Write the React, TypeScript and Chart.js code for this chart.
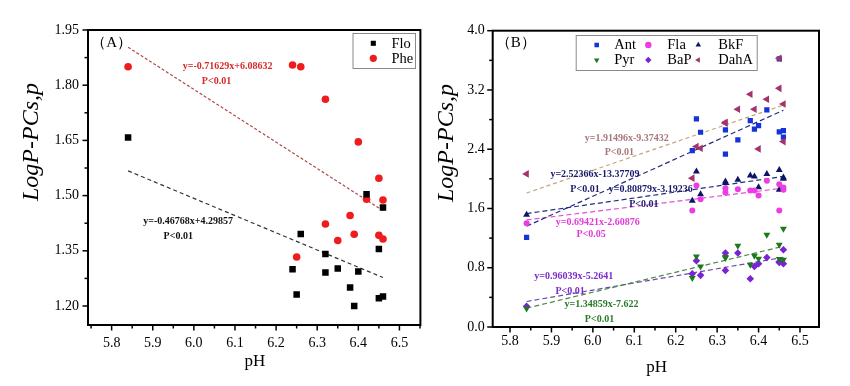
import React, { useEffect, useRef } from 'react';
import { Chart, registerables } from 'chart.js';
import { drawPoint } from 'chart.js/helpers';

Chart.register(...registerables);

const FONT = "'Liberation Serif', 'Times New Roman', serif";

// ---------- shared ----------
const pHSamples = [5.84, 6.24, 6.25, 6.26, 6.32, 6.32, 6.35, 6.38, 6.39, 6.40, 6.42, 6.45, 6.45, 6.46, 6.46];
const fitRange = [5.84, 6.46];
const xTickLabels = ['5.8', '5.9', '6.0', '6.1', '6.2', '6.3', '6.4', '6.5'];
const xTitle = 'pH';
const yTitle = 'LogP-PCs,p';

// ---------- panel A ----------
const seriesNamesA = ['Flo', 'Phe'];
const floValues = [1.658, 1.300, 1.231, 1.396, 1.341, 1.291, 1.302, 1.250, 1.200, 1.294, 1.504, 1.355, 1.221, 1.468, 1.226];
const pheValues = [1.850, 1.855, 1.333, 1.850, 1.762, 1.423, 1.378, 1.446, 1.395, 1.646, 1.490, 1.547, 1.392, 1.488, 1.382];
const slopesA = [-0.46768, -0.71629];
const interceptsA = [4.29857, 6.08632];
const equationsA = ['y=-0.46768x+4.29857', 'y=-0.71629x+6.08632'];
const pTextsA = ['P<0.01', 'P<0.01'];
const yTickLabelsA = ['1.20', '1.35', '1.50', '1.65', '1.80', '1.95'];

// ---------- panel B ----------
const seriesNamesB = ['Ant', 'Fla', 'BkF', 'Pyr', 'BaP', 'DahA'];
const antValues = [1.209, 2.382, 2.809, 2.629, 2.661, 2.333, 2.526, 2.787, 2.670, 2.719, 2.930, 2.634, 3.620, 2.652, 2.562];
const flaValues = [1.402, 1.573, 1.910, 1.726, 1.874, 1.816, 1.861, 1.843, 1.843, 1.775, 1.973, 1.928, 1.573, 1.883, 1.852];
const bkfValues = [1.515, 1.703, 2.099, 1.793, 1.964, 1.945, 1.987, 2.045, 2.031, 1.888, 2.067, 2.121, 1.852, 2.018, 2.000];
const pyrValues = [0.250, 0.660, 0.953, 0.818, 0.944, 0.930, 1.097, 0.840, 0.962, 0.920, 1.245, 1.110, 0.917, 1.326, 0.908];
const bapValues = [0.280, 0.719, 0.894, 0.697, 0.998, 0.764, 0.998, 0.652, 0.818, 0.854, 0.939, 0.872, 0.880, 1.043, 0.854];
const dahaValues = [2.067, 2.009, 2.436, 2.413, 2.764, 2.750, 2.939, 3.142, 2.939, 2.404, 3.074, 3.222, 3.627, 3.011, 2.503];
const slopesB = [2.52366, 0.69421, 0.80879, 1.34859, 0.96039, 1.91496];
const interceptsB = [-13.37709, -2.60876, -3.19236, -7.622, -5.2641, -9.37432];
const equationsB = ['y=2.52366x-13.37709', 'y=0.69421x-2.60876', 'y=0.80879x-3.19236', 'y=1.34859x-7.622', 'y=0.96039x-5.2641', 'y=1.91496x-9.37432'];
const pTextsB = ['P<0.01', 'P<0.05', 'P<0.01', 'P<0.01', 'P<0.01', 'P<0.01'];
const yTickLabelsB = ['0.0', '0.8', '1.6', '2.4', '3.2', '4.0'];

// ---------- styles (not data) ----------
const stylesA = [
  { color: '#000000', pointStyle: 'rect', rotation: 0, radius: 4.6, line: '#333333', dash: [4, 3], text: '#111111', order: 0 },
  { color: '#ee1c1c', pointStyle: 'circle', rotation: 0, radius: 3.8, line: '#b04a4a', dash: [3, 2], text: '#d42a2a', order: 0 },
];
const stylesB = [
  { color: '#1433d8', pointStyle: 'rect', rotation: 0, radius: 3.7, line: '#262c82', dash: [5, 3], text: '#1a1a6e', order: 0 },
  { color: '#ec3ce4', pointStyle: 'circle', rotation: 0, radius: 3.0, line: '#e050d8', dash: [5, 3], text: '#e03ad8', order: 0 },
  { color: '#0c1466', pointStyle: 'triangle', rotation: 0, radius: 4.0, line: '#262c82', dash: [5, 3], text: '#1a1a6e', order: 0 },
  { color: '#1c7a1c', pointStyle: 'triangle', rotation: 180, radius: 4.0, line: '#4a8a4a', dash: [5, 3], text: '#2a7a2a', order: 0 },
  { color: '#7a22d6', pointStyle: 'rectRot', rotation: 0, radius: 3.8, line: '#6c4aa8', dash: [5, 3], text: '#7a2ccc', order: 0 },
  { color: '#a3336a', pointStyle: 'triangle', rotation: 270, radius: 4.4, line: '#c4a57a', dash: [4, 3], text: '#a8787a', order: -1 },
];

// text anchor positions in data coordinates: [eqX, eqY, pX, pY]
const labelPosA = [
  [5.986, 1.431, 5.962, 1.390],
  [6.082, 1.850, 6.055, 1.811],
];
const labelPosB = [
  [6.005, 2.054, 5.981, 1.852],
  [6.012, 1.411, 5.996, 1.245],
  [6.140, 1.852, 6.123, 1.658],
  [6.021, 0.301, 6.016, 0.099],
  [5.954, 0.683, 5.945, 0.481],
  [6.082, 2.548, 6.064, 2.355],
];

function makeTicks(labels: string[], min: number, max: number) {
  const majors = labels.map(Number);
  const step = (majors[1] - majors[0]) / 2;
  const start = majors[0] - step * Math.floor((majors[0] - min) / step + 1e-9);
  const out: { value: number }[] = [];
  for (let i = 0; ; i++) {
    const v = +(start + i * step).toFixed(6);
    if (v > max + 1e-6) break;
    out.push({ value: v });
  }
  return out;
}

function labelFor(labels: string[], v: number) {
  const f = labels.find((l) => Math.abs(Number(l) - v) < 1e-6);
  return f === undefined ? '' : f;
}

type PanelCfg = {
  names: string[];
  values: number[][];
  slopes: number[];
  intercepts: number[];
  equations: string[];
  pTexts: string[];
  styles: any[];
  labelPos: number[][];
  yLabels: string[];
  xMin: number; xMax: number; yMin: number; yMax: number;
  padding: { left: number; top: number; right: number; bottom: number };
  yWidth: number; xHeight: number;
  yPad: number; xPad: number;
  panelText: string; panelPos: number[];
  legend: { box: number[]; cols: number[]; labelCols: number[]; rows: number[]; ncol: number; r: number };
  yTitlePos: number[]; xTitlePos: number[];
};

function buildConfig(c: PanelCfg): any {
  const datasets: any[] = [];
  c.names.forEach((name, i) => {
    const s = c.styles[i];
    datasets.push({
      type: 'scatter',
      label: name,
      data: pHSamples.map((x, k) => ({ x, y: c.values[i][k] })),
      pointStyle: s.pointStyle,
      rotation: s.rotation,
      pointRadius: s.radius,
      backgroundColor: s.color,
      borderColor: s.color,
      borderWidth: 0,
      order: s.order,
    });
  });
  c.names.forEach((name, i) => {
    const s = c.styles[i];
    datasets.push({
      type: 'line',
      label: name + ' fit',
      data: fitRange.map((x) => ({ x, y: c.slopes[i] * x + c.intercepts[i] })),
      borderColor: s.line,
      borderDash: s.dash,
      borderWidth: 1.2,
      pointRadius: 0,
      fill: false,
      tension: 0,
      order: 1,
    });
  });

  const decor = {
    id: 'decor',
    afterDraw(chart: any) {
      const ctx = chart.ctx;
      const ca = chart.chartArea;
      const xs = chart.scales.x;
      const ys = chart.scales.y;
      ctx.save();
      // ticks
      ctx.strokeStyle = '#000';
      ctx.lineWidth = 1.5;
      xs.ticks.forEach((t: any) => {
        const px = xs.getPixelForValue(t.value);
        const len = t.label !== '' ? 5.5 : 3.5;
        ctx.beginPath();
        ctx.moveTo(px, ca.bottom);
        ctx.lineTo(px, ca.bottom + len);
        ctx.stroke();
      });
      ys.ticks.forEach((t: any) => {
        const py = ys.getPixelForValue(t.value);
        const len = t.label !== '' ? 5.5 : 3.5;
        ctx.beginPath();
        ctx.moveTo(ca.left, py);
        ctx.lineTo(ca.left - len, py);
        ctx.stroke();
      });
      // frame
      ctx.lineWidth = 2;
      ctx.strokeRect(ca.left, ca.top, ca.right - ca.left, ca.bottom - ca.top);

      // equations
      ctx.textAlign = 'center';
      ctx.textBaseline = 'middle';
      ctx.font = `bold 10px ${FONT}`;
      c.names.forEach((_, i) => {
        const p = c.labelPos[i];
        ctx.fillStyle = c.styles[i].text;
        ctx.fillText(c.equations[i], xs.getPixelForValue(p[0]), ys.getPixelForValue(p[1]));
        ctx.fillText(c.pTexts[i], xs.getPixelForValue(p[2]), ys.getPixelForValue(p[3]));
      });
      // panel label
      ctx.fillStyle = '#000';
      ctx.font = `15px ${FONT}`;
      ctx.fillText(c.panelText, xs.getPixelForValue(c.panelPos[0]), ys.getPixelForValue(c.panelPos[1]));

      // legend
      const L = c.legend;
      ctx.fillStyle = '#fff';
      ctx.fillRect(L.box[0], L.box[1], L.box[2], L.box[3]);
      ctx.strokeStyle = '#8a8a8a';
      ctx.lineWidth = 1;
      ctx.strokeRect(L.box[0] + 0.5, L.box[1] + 0.5, L.box[2], L.box[3]);
      ctx.font = `14.5px ${FONT}`;
      ctx.textAlign = 'left';
      c.names.forEach((name, i) => {
        const s = c.styles[i];
        const col = i % L.ncol;
        const row = Math.floor(i / L.ncol);
        const mx = L.cols[col];
        const my = L.rows[row];
        ctx.fillStyle = s.color;
        ctx.strokeStyle = s.color;
        drawPoint(ctx, { pointStyle: s.pointStyle, rotation: s.rotation, radius: L.r, borderWidth: 0 } as any, mx, my);
        ctx.fillStyle = '#000';
        ctx.fillText(name, L.labelCols[col], my + 0.5);
      });

      // axis titles
      ctx.fillStyle = '#000';
      ctx.textAlign = 'center';
      ctx.textBaseline = 'alphabetic';
      ctx.font = `17px ${FONT}`;
      ctx.fillText(xTitle, c.xTitlePos[0], c.xTitlePos[1]);
      ctx.save();
      ctx.translate(c.yTitlePos[0], c.yTitlePos[1]);
      ctx.rotate(-Math.PI / 2);
      ctx.font = `italic 24px ${FONT}`;
      ctx.fillText(yTitle, 0, 0);
      ctx.restore();
      ctx.restore();
    },
  };

  return {
    type: 'scatter',
    data: { datasets },
    plugins: [decor],
    options: {
      animation: false,
      responsive: false,
      devicePixelRatio: 1,
      events: [],
      layout: { padding: c.padding },
      plugins: { legend: { display: false }, tooltip: { enabled: false } },
      scales: {
        x: {
          type: 'linear',
          min: c.xMin,
          max: c.xMax,
          afterBuildTicks: (s: any) => { s.ticks = makeTicks(xTickLabels, c.xMin, c.xMax); },
          afterFit: (s: any) => { s.height = c.xHeight; },
          grid: { display: false, drawTicks: false },
          border: { display: false },
          ticks: {
            autoSkip: false,
            maxRotation: 0,
            padding: c.xPad,
            color: '#000',
            font: { family: FONT, size: 14 },
            callback: (v: any) => labelFor(xTickLabels, Number(v)),
          },
        },
        y: {
          type: 'linear',
          min: c.yMin,
          max: c.yMax,
          afterBuildTicks: (s: any) => { s.ticks = makeTicks(c.yLabels, c.yMin, c.yMax); },
          afterFit: (s: any) => { s.width = c.yWidth; },
          grid: { display: false, drawTicks: false },
          border: { display: false },
          ticks: {
            autoSkip: false,
            padding: c.yPad,
            color: '#000',
            font: { family: FONT, size: 14 },
            callback: (v: any) => labelFor(c.yLabels, Number(v)),
          },
        },
      },
    },
  };
}

const panelA: PanelCfg = {
  names: seriesNamesA,
  values: [floValues, pheValues],
  slopes: slopesA,
  intercepts: interceptsA,
  equations: equationsA,
  pTexts: pTextsA,
  styles: stylesA,
  labelPos: labelPosA,
  yLabels: yTickLabelsA,
  xMin: 5.7425, xMax: 6.551, yMin: 1.1484, yMax: 1.95,
  padding: { left: 0, top: 30, right: 9, bottom: 0 },
  yWidth: 88, xHeight: 61,
  yPad: 9, xPad: 10,
  panelText: '（A）', panelPos: [5.8, 1.914],
  legend: { box: [352.5, 33, 62.5, 35], cols: [373.3], labelCols: [391.5], rows: [43.3, 58.3], ncol: 1, r: 3.6 },
  yTitlePos: [38, 142], xTitlePos: [255, 366],
};

const panelB: PanelCfg = {
  names: seriesNamesB,
  values: [antValues, flaValues, bkfValues, pyrValues, bapValues, dahaValues],
  slopes: slopesB,
  intercepts: interceptsB,
  equations: equationsB,
  pTexts: pTextsB,
  styles: stylesB,
  labelPos: labelPosB,
  yLabels: yTickLabelsB,
  xMin: 5.7582, xMax: 6.5459, yMin: 0, yMax: 4,
  padding: { left: 0, top: 30.7, right: 31, bottom: 0 },
  yWidth: 67.7, xHeight: 59,
  yPad: 8, xPad: 6,
  panelText: '（B）', panelPos: [5.814, 3.829],
  legend: { box: [150.7, 35, 181, 35], cols: [171.7, 223.3, 273.3], labelCols: [189.3, 242.3, 293.3], rows: [45, 60], ncol: 3, r: 3.2 },
  yTitlePos: [28, 143], xTitlePos: [231.7, 372],
};

function Panel({ cfg, left, width }: { cfg: PanelCfg; left: number; width: number }) {
  const ref = useRef<HTMLCanvasElement | null>(null);
  useEffect(() => {
    if (!ref.current) return;
    const chart = new Chart(ref.current, buildConfig(cfg));
    return () => chart.destroy();
  }, [cfg]);
  return (
    <canvas
      ref={ref}
      width={width}
      height={386}
      style={{ position: 'absolute', left, top: 0, width, height: 386 }}
    />
  );
}

export default function App() {
  return (
    <div style={{ position: 'fixed', left: 0, top: 0, width: 850, height: 386, background: '#fff', overflow: 'hidden' }}>
      <Panel cfg={panelA} left={0} width={430} />
      <Panel cfg={panelB} left={425} width={425} />
    </div>
  );
}
